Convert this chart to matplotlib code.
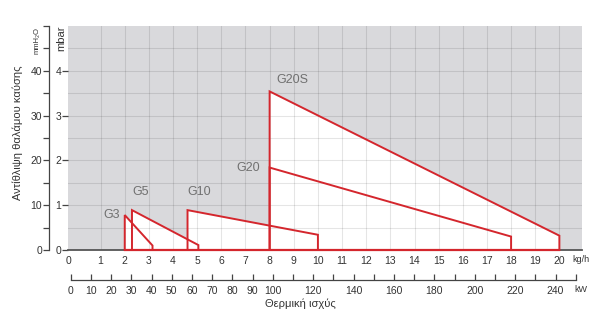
import numpy as np
import matplotlib.pyplot as plt
from matplotlib.patches import Polygon

plt.rcParams['font.family'] = ['Liberation Sans', 'DejaVu Sans']

# burner working fields (kg/h on x, mbar on y)
burners = ['G3', 'G5', 'G10', 'G20', 'G20S']
x_start = [2.0, 2.3, 4.6, 8.0, 8.0]
x_end = [3.15, 5.05, 10.0, 18.0, 20.0]
p_start = [0.78, 0.89, 0.89, 1.84, 3.54]
p_end = [0.10, 0.11, 0.34, 0.30, 0.32]

kgh_ticks = list(range(0, 21))
mbar_ticks = [0, 1, 2, 3, 4]
mmh2o_ticks = list(range(0, 55, 5))
mmh2o_labels = ['0', '', '10', '', '20', '', '30', '', '40', '', '']
kw_ticks = list(range(0, 260, 10))
kw_labels = [str(v) if (v <= 100 or v % 20 == 0) and v <= 240 else '' for v in kw_ticks]

red = '#d4262d'
txt = '#333333'
label_gray = '#707070'

fig = plt.figure(figsize=(6, 3.31), dpi=100)
ax = fig.add_axes([68 / 600, 81 / 331, 514 / 600, 224 / 331])
ax.set_xlim(0, 514 / 24.55)
ax.set_ylim(0, 5)
ax.set_facecolor('#d9d9dc')

# white fields
for x0, x1, y0, y1 in zip(x_start, x_end, p_start, p_end):
    ax.add_patch(Polygon([(x0, 0), (x0, y0), (x1, y1), (x1, 0)], closed=True,
                         facecolor='white', edgecolor='none', zorder=1))

# grid
for gx in range(1, 21):
    ax.axvline(gx, color='black', alpha=0.1, lw=0.8, zorder=2)
for gy in np.arange(0.5, 5.0, 0.5):
    ax.axhline(gy, color='black', alpha=0.1, lw=0.8, zorder=2)

# red outlines
for x0, x1, y0, y1 in zip(x_start, x_end, p_start, p_end):
    ax.plot([x0, x0, x1, x1], [0, y0, y1, 0], color=red, lw=1.4, zorder=4,
            solid_joinstyle='miter', clip_on=False)
ax.plot([min(x_start), max(x_end)], [0, 0], color=red, lw=1.6, zorder=5, clip_on=False)

# burner names
label_off = [(-0.55, 0.0), (0.35, 0.41), (0.5, 0.41), (-0.87, 0.0), (0.96, 0.26)]
for name, x0, y0, (dx, dy) in zip(burners, x_start, p_start, label_off):
    ax.text(x0 + dx, y0 + dy, name, color=label_gray, fontsize=9,
            ha='center', va='center', zorder=6)

for s in ['top', 'right', 'left']:
    ax.spines[s].set_visible(False)
ax.spines['bottom'].set_color('#555555')
ax.spines['bottom'].set_linewidth(1.3)
ax.spines['bottom'].set_zorder(3)

ax.set_yticks(mbar_ticks)
ax.tick_params(axis='y', length=4, width=0.9, color='#444444', labelsize=7.5,
               labelcolor=txt, pad=1)
xt = [-0.35] + kgh_ticks[1:]
ax.set_xticks(xt)
ax.set_xticklabels([str(v) for v in kgh_ticks])
ax.tick_params(axis='x', length=0, labelsize=7.5, labelcolor=txt, pad=4)
ax.text(20.55, -0.22, 'kg/h', fontsize=6.5, color=txt, ha='left', va='center',
        clip_on=False)

# mmH2O axis
ax_mm = ax.twinx()
ax_mm.set_ylim(0, 50)
ax_mm.yaxis.set_ticks_position('left')
ax_mm.yaxis.set_label_position('left')
for s in ['top', 'right', 'bottom']:
    ax_mm.spines[s].set_visible(False)
ax_mm.spines['left'].set_position(('outward', 13.7))
ax_mm.spines['left'].set_color('#444444')
ax_mm.spines['left'].set_linewidth(0.9)
ax_mm.set_yticks(mmh2o_ticks)
ax_mm.set_yticklabels(mmh2o_labels)
ax_mm.tick_params(axis='y', length=4, width=0.9, color='#444444', labelsize=7.5,
                  labelcolor=txt, pad=1)

fig.text(37 / 600, 1 - 40 / 331, 'mmH₂O', rotation=90, fontsize=5.5, color=txt,
         ha='center', va='center')
fig.text(61 / 600, 1 - 38 / 331, 'mbar', rotation=90, fontsize=8, color=txt,
         ha='center', va='center')
fig.text(18 / 600, 1 - 133 / 331, 'Αντίθλιψη θαλάμου καύσης', rotation=90,
         fontsize=8, color=txt, ha='center', va='center')

# kW axis
ax_kw = fig.add_axes([70.7 / 600, 1 - 280 / 331, 505 / 600, 0.001])
ax_kw.set_xlim(0, 250)
ax_kw.set_yticks([])
ax_kw.patch.set_visible(False)
for s in ['top', 'right', 'left']:
    ax_kw.spines[s].set_visible(False)
ax_kw.spines['bottom'].set_color('#444444')
ax_kw.spines['bottom'].set_linewidth(0.9)
ax_kw.set_xticks(kw_ticks)
ax_kw.set_xticklabels(kw_labels)
ax_kw.tick_params(axis='x', direction='in', length=4, width=0.9, color='#444444',
                  labelsize=7.5, labelcolor=txt, pad=4)
fig.text(574 / 600, 1 - 290 / 331, 'kW', fontsize=6.5, color=txt, ha='left', va='center')
fig.text(300 / 600, 1 - 304 / 331, 'Θερμική ισχύς', fontsize=8, color=txt,
         ha='center', va='center')

fig.savefig('out.png', dpi=100)
